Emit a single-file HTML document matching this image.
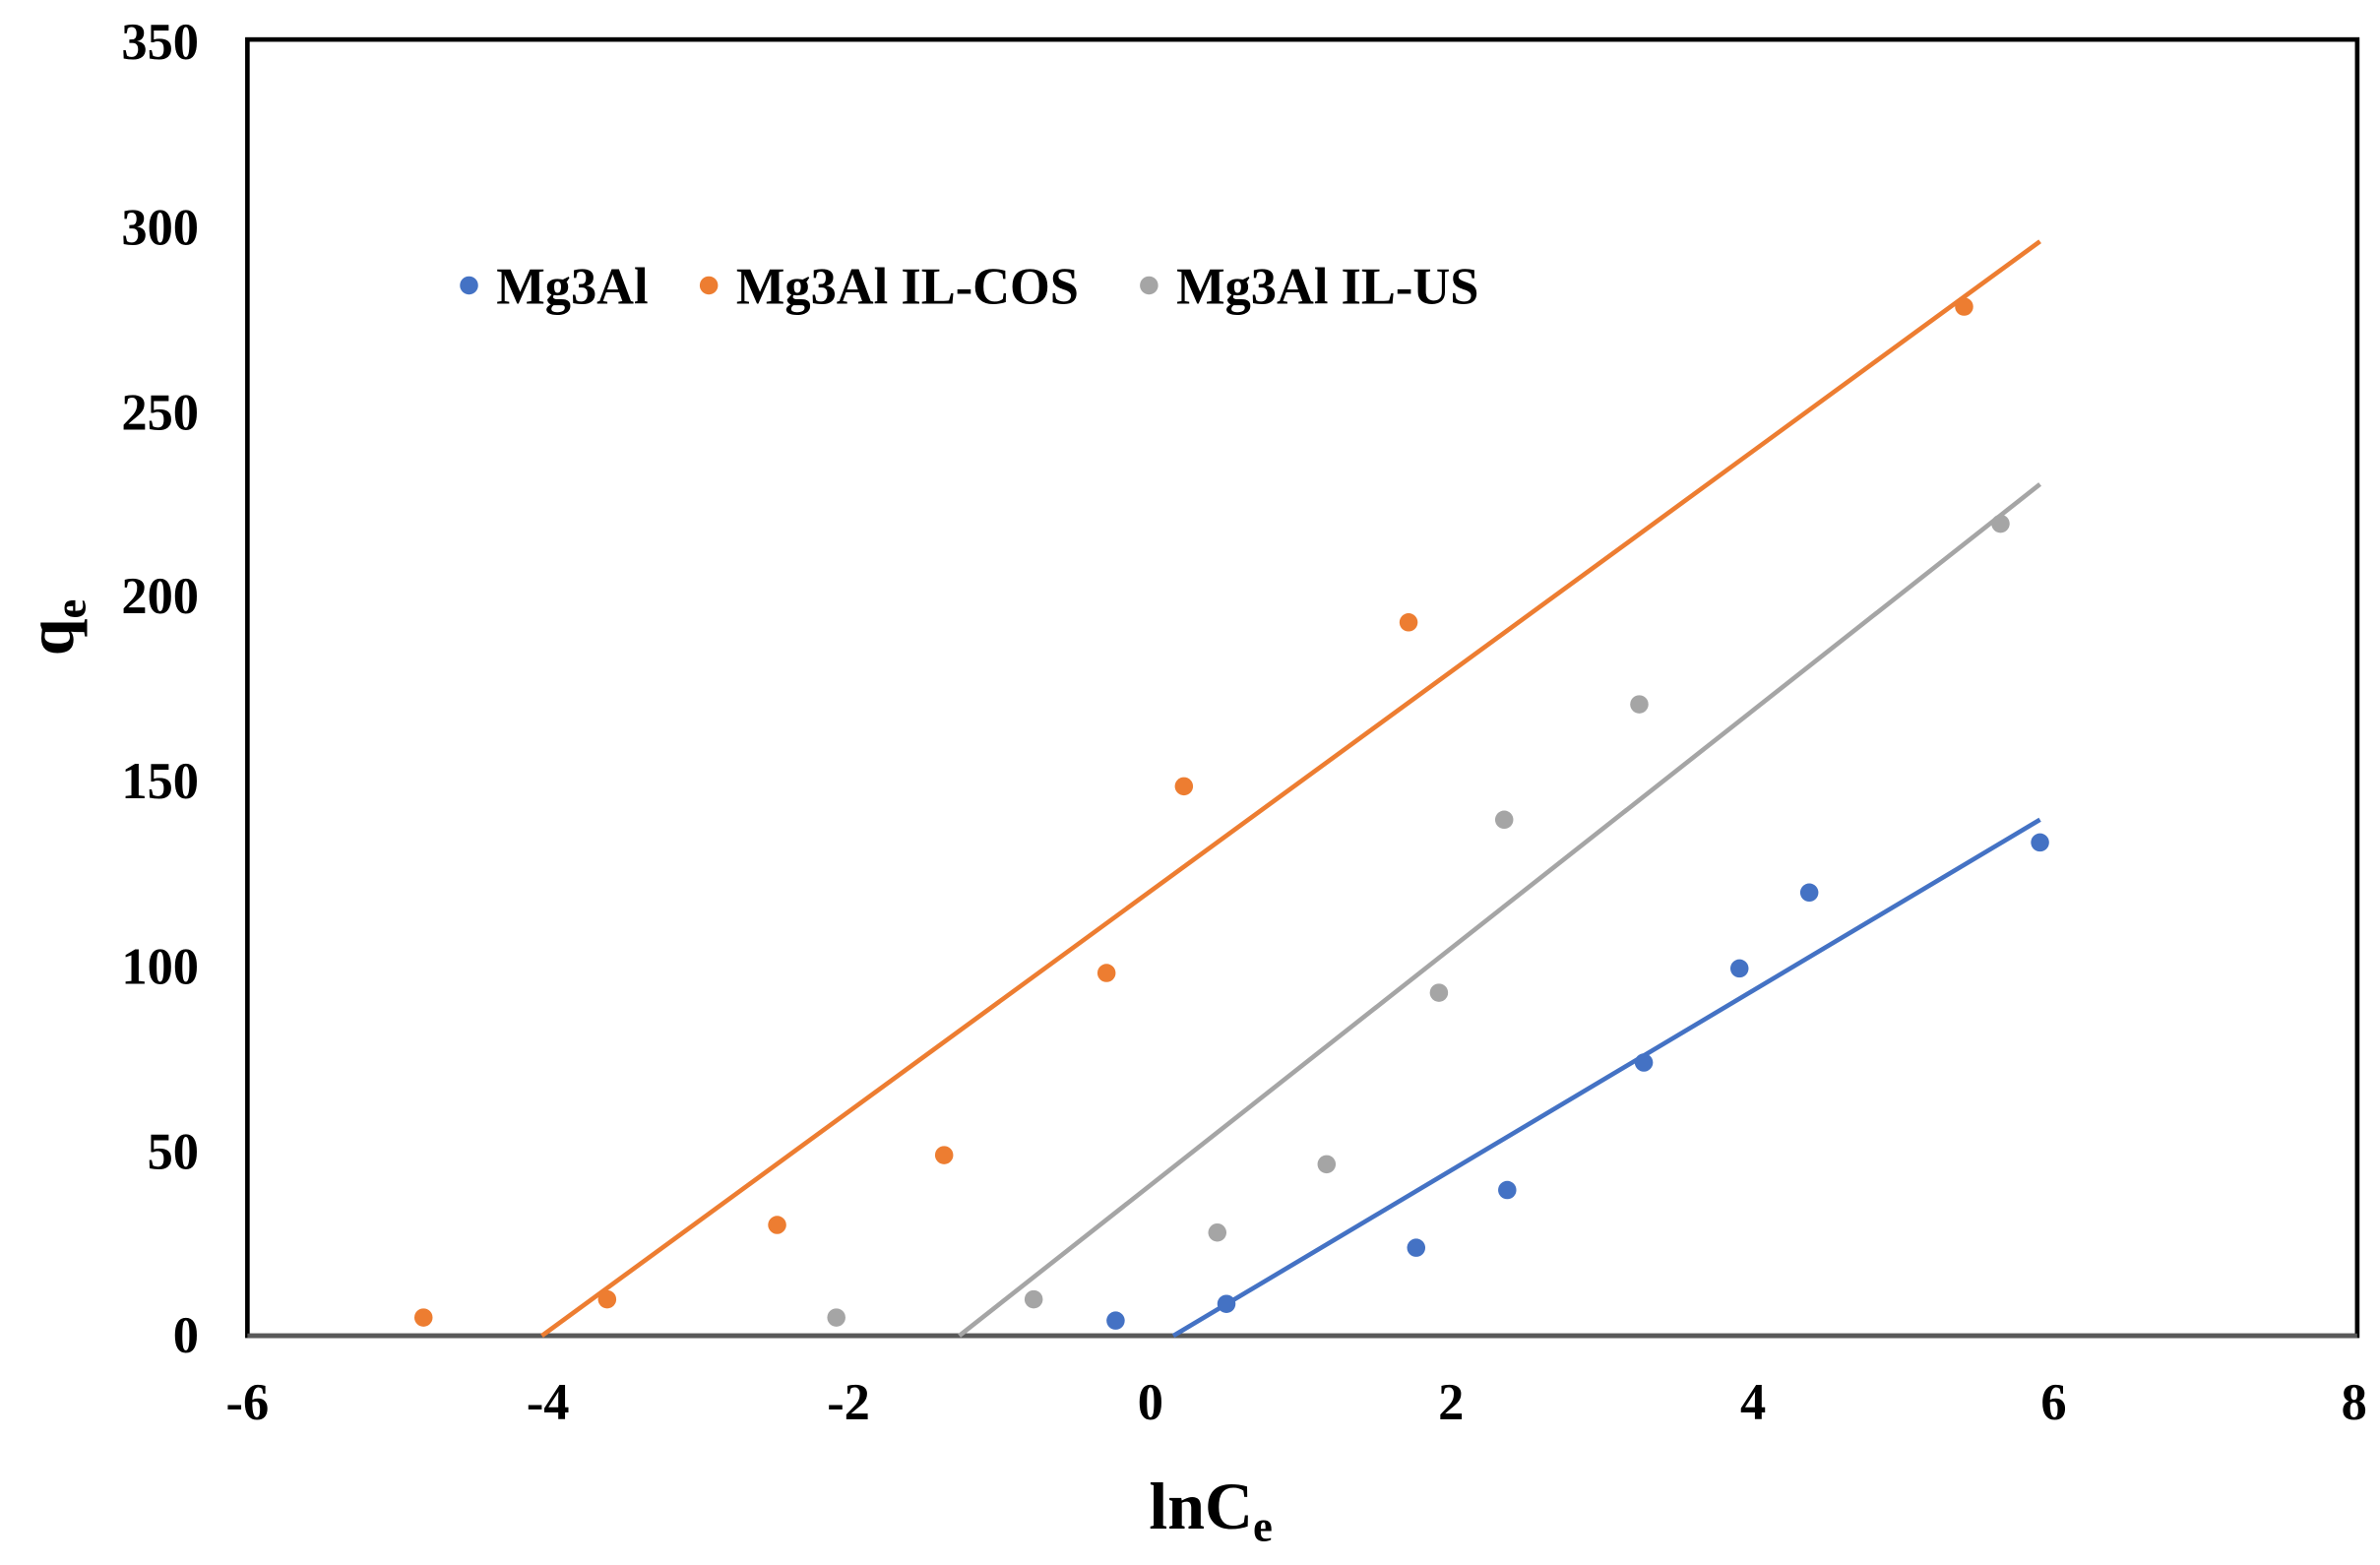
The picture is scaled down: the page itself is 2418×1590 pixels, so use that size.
<!DOCTYPE html>
<html><head><meta charset="utf-8"><style>html,body{margin:0;padding:0;background:#fff}svg{display:block}</style></head>
<body>
<svg width="2418" height="1590" viewBox="0 0 1568 1031" xmlns="http://www.w3.org/2000/svg" font-family="Liberation Serif, serif" font-weight="bold">
<rect x="0" y="0" width="1568" height="1031" fill="#fff"/>
<rect x="163" y="26" width="1390" height="854" fill="none" stroke="#000" stroke-width="3"/>
<line x1="163" y1="880" x2="1553" y2="880" stroke="#595959" stroke-width="3"/>
<g font-size="34" text-anchor="end" fill="#000">
<text x="131" y="891">0</text><text x="131" y="770">50</text><text x="131" y="648">100</text><text x="131" y="526">150</text><text x="131" y="404">200</text><text x="131" y="283">250</text><text x="131" y="161">300</text><text x="131" y="39">350</text>
</g>
<g font-size="34" text-anchor="middle" fill="#000">
<text x="163" y="935">-6</text><text x="361" y="935">-4</text><text x="559" y="935">-2</text><text x="758" y="935">0</text><text x="956" y="935">2</text><text x="1155" y="935">4</text><text x="1353" y="935">6</text><text x="1551" y="935">8</text>
</g>
<text x="757" y="1007" font-size="44">lnC<tspan font-size="29" dy="8">e</tspan></text>
<text transform="translate(48,432) rotate(-90)" font-size="44">q<tspan font-size="29" dy="8">e</tspan></text>
<line x1="357" y1="880" x2="1344" y2="159" stroke="#ED7D31" stroke-width="3"/>
<line x1="632" y1="880" x2="1344" y2="319" stroke="#A5A5A5" stroke-width="3"/>
<line x1="773" y1="880" x2="1344" y2="540" stroke="#4472C4" stroke-width="3"/>
<g fill="#ED7D31">
<circle cx="279" cy="868" r="6"/><circle cx="400" cy="856" r="6"/><circle cx="512" cy="807" r="6"/><circle cx="622" cy="761" r="6"/><circle cx="729" cy="641" r="6"/><circle cx="780" cy="518" r="6"/><circle cx="928" cy="410" r="6"/><circle cx="1294" cy="202" r="6"/>
</g>
<g fill="#A5A5A5">
<circle cx="551" cy="868" r="6"/><circle cx="681" cy="856" r="6"/><circle cx="802" cy="812" r="6"/><circle cx="874" cy="767" r="6"/><circle cx="948" cy="654" r="6"/><circle cx="991" cy="540" r="6"/><circle cx="1080" cy="464" r="6"/><circle cx="1318" cy="345" r="6"/>
</g>
<g fill="#4472C4">
<circle cx="735" cy="870" r="6"/><circle cx="808" cy="859" r="6"/><circle cx="933" cy="822" r="6"/><circle cx="993" cy="784" r="6"/><circle cx="1083" cy="700" r="6"/><circle cx="1146" cy="638" r="6"/><circle cx="1192" cy="588" r="6"/><circle cx="1344" cy="555" r="6"/>
</g>
<g font-size="34" fill="#000">
<circle cx="309" cy="188" r="6" fill="#4472C4"/><text x="327" y="200">Mg3Al</text>
<circle cx="467" cy="188" r="6" fill="#ED7D31"/><text x="485" y="200">Mg3Al IL-COS</text>
<circle cx="757" cy="188" r="6" fill="#A5A5A5"/><text x="775" y="200">Mg3Al IL-US</text>
</g>
</svg>
</body></html>
